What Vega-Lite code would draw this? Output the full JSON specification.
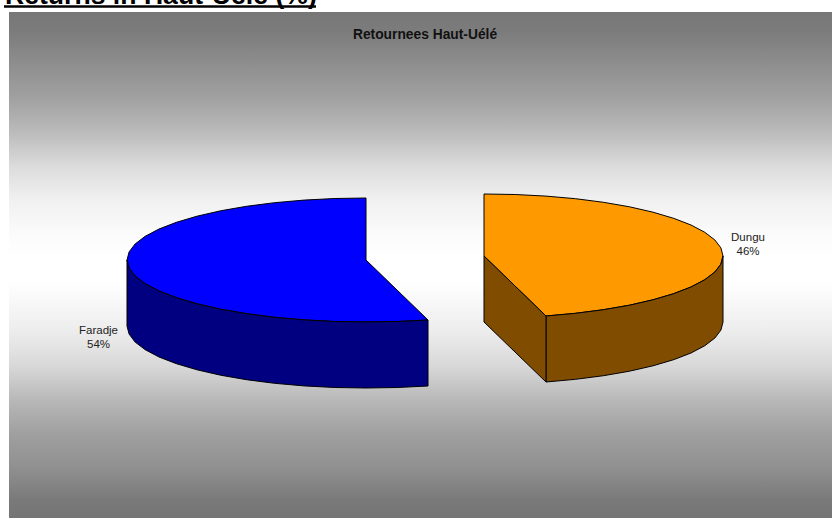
{"$schema":"https://vega.github.io/schema/vega-lite/v6.json","autosize":{"type":"none"},"width":832,"height":518,"padding":0,"background":"white","config":{"view":{"stroke":null},"style":{"cell":{"stroke":null}}},
"datasets":{"plot":[{"x0":9,"x1":832,"y0":12,"y1":518}],
"rule":[{"x0":4,"x1":316,"y":6.5}],
"texts":[{"t":"Returns in Haut-Uélé (%)","x":5,"y":4,"k":"h"}],
"sub":[{"t":"Retournees Haut-Uélé","x":425,"y":38.5}],
"labels":[{"t":"Faradje","x":98.5,"y":334},{"t":"54%","x":98.5,"y":348},{"t":"Dungu","x":748,"y":241},{"t":"46%","x":748,"y":255}],
"shapes":[
{"s":"Faradje top","x":366,"y":198},{"s":"Faradje top","x":334.8,"y":198.5},{"s":"Faradje top","x":304.1,"y":200.1},{"s":"Faradje top","x":274.5,"y":202.7},{"s":"Faradje top","x":246.5,"y":206.3},{"s":"Faradje top","x":220.5,"y":210.8},{"s":"Faradje top","x":197,"y":216.2},{"s":"Faradje top","x":176.4,"y":222.3},{"s":"Faradje top","x":159,"y":229},{"s":"Faradje top","x":145.2,"y":236.3},{"s":"Faradje top","x":135.1,"y":244},{"s":"Faradje top","x":129.1,"y":251.9},{"s":"Faradje top","x":127,"y":260},{"s":"Faradje top","x":129.1,"y":268.1},{"s":"Faradje top","x":135.1,"y":276},{"s":"Faradje top","x":145.2,"y":283.7},{"s":"Faradje top","x":159,"y":291},{"s":"Faradje top","x":176.4,"y":297.7},{"s":"Faradje top","x":197,"y":303.8},{"s":"Faradje top","x":220.5,"y":309.2},{"s":"Faradje top","x":246.5,"y":313.7},{"s":"Faradje top","x":274.5,"y":317.3},{"s":"Faradje top","x":304.1,"y":319.9},{"s":"Faradje top","x":334.8,"y":321.5},{"s":"Faradje top","x":366,"y":322},{"s":"Faradje top","x":397.2,"y":321.5},{"s":"Faradje top","x":428,"y":320},{"s":"Faradje top","x":366,"y":260},{"s":"Faradje top","x":366,"y":198},
{"s":"Faradje side","x":127,"y":260},{"s":"Faradje side","x":129.1,"y":268.1},{"s":"Faradje side","x":135.1,"y":276},{"s":"Faradje side","x":145.2,"y":283.7},{"s":"Faradje side","x":159,"y":291},{"s":"Faradje side","x":176.4,"y":297.7},{"s":"Faradje side","x":197,"y":303.8},{"s":"Faradje side","x":220.5,"y":309.2},{"s":"Faradje side","x":246.5,"y":313.7},{"s":"Faradje side","x":274.5,"y":317.3},{"s":"Faradje side","x":304.1,"y":319.9},{"s":"Faradje side","x":334.8,"y":321.5},{"s":"Faradje side","x":366,"y":322},{"s":"Faradje side","x":397.2,"y":321.5},{"s":"Faradje side","x":428,"y":320},{"s":"Faradje side","x":428,"y":386},{"s":"Faradje side","x":397.2,"y":387.5},{"s":"Faradje side","x":366,"y":388},{"s":"Faradje side","x":334.8,"y":387.5},{"s":"Faradje side","x":304.1,"y":385.9},{"s":"Faradje side","x":274.5,"y":383.3},{"s":"Faradje side","x":246.5,"y":379.7},{"s":"Faradje side","x":220.5,"y":375.2},{"s":"Faradje side","x":197,"y":369.8},{"s":"Faradje side","x":176.4,"y":363.7},{"s":"Faradje side","x":159,"y":357},{"s":"Faradje side","x":145.2,"y":349.7},{"s":"Faradje side","x":135.1,"y":342},{"s":"Faradje side","x":129.1,"y":334.1},{"s":"Faradje side","x":127,"y":326},{"s":"Faradje side","x":127,"y":260},
{"s":"Dungu top","x":484,"y":194},{"s":"Dungu top","x":515.2,"y":194.5},{"s":"Dungu top","x":545.9,"y":196.1},{"s":"Dungu top","x":575.5,"y":198.7},{"s":"Dungu top","x":603.5,"y":202.3},{"s":"Dungu top","x":629.5,"y":206.8},{"s":"Dungu top","x":653,"y":212.2},{"s":"Dungu top","x":673.6,"y":218.3},{"s":"Dungu top","x":691,"y":225},{"s":"Dungu top","x":704.8,"y":232.3},{"s":"Dungu top","x":714.9,"y":240},{"s":"Dungu top","x":720.9,"y":247.9},{"s":"Dungu top","x":723,"y":256},{"s":"Dungu top","x":720.9,"y":264.1},{"s":"Dungu top","x":714.9,"y":272},{"s":"Dungu top","x":704.8,"y":279.7},{"s":"Dungu top","x":691,"y":287},{"s":"Dungu top","x":673.6,"y":293.7},{"s":"Dungu top","x":653,"y":299.8},{"s":"Dungu top","x":629.5,"y":305.2},{"s":"Dungu top","x":603.5,"y":309.7},{"s":"Dungu top","x":575.5,"y":313.3},{"s":"Dungu top","x":546,"y":316},{"s":"Dungu top","x":484,"y":256},{"s":"Dungu top","x":484,"y":194},
{"s":"Dungu side","x":723,"y":256},{"s":"Dungu side","x":720.9,"y":264.1},{"s":"Dungu side","x":714.9,"y":272},{"s":"Dungu side","x":704.8,"y":279.7},{"s":"Dungu side","x":691,"y":287},{"s":"Dungu side","x":673.6,"y":293.7},{"s":"Dungu side","x":653,"y":299.8},{"s":"Dungu side","x":629.5,"y":305.2},{"s":"Dungu side","x":603.5,"y":309.7},{"s":"Dungu side","x":575.5,"y":313.3},{"s":"Dungu side","x":546,"y":316},{"s":"Dungu side","x":546,"y":382},{"s":"Dungu side","x":575.5,"y":379.3},{"s":"Dungu side","x":603.5,"y":375.7},{"s":"Dungu side","x":629.5,"y":371.2},{"s":"Dungu side","x":653,"y":365.8},{"s":"Dungu side","x":673.6,"y":359.7},{"s":"Dungu side","x":691,"y":353},{"s":"Dungu side","x":704.8,"y":345.7},{"s":"Dungu side","x":714.9,"y":338},{"s":"Dungu side","x":720.9,"y":330.1},{"s":"Dungu side","x":723,"y":322},{"s":"Dungu side","x":723,"y":256},
{"s":"Dungu cut","x":484,"y":256},{"s":"Dungu cut","x":546,"y":316},{"s":"Dungu cut","x":546,"y":382},{"s":"Dungu cut","x":484,"y":322},{"s":"Dungu cut","x":484,"y":256}
]},
"layer":[
{"data":{"name":"plot"},"mark":{"type":"rect","fill":{"gradient":"linear","x1":0,"y1":0,"x2":0,"y2":1,"stops":[{"offset":0,"color":"#777777"},{"offset":0.04,"color":"#7c7c7c"},{"offset":0.174,"color":"#a2a2a2"},{"offset":0.24,"color":"#bcbcbc"},{"offset":0.306,"color":"#dcdcdc"},{"offset":0.37,"color":"#f0f0f0"},{"offset":0.437,"color":"#fbfbfb"},{"offset":0.49,"color":"#ffffff"},{"offset":0.54,"color":"#fefefe"},{"offset":0.634,"color":"#ececec"},{"offset":0.70,"color":"#d8d8d8"},{"offset":0.767,"color":"#b8b8b8"},{"offset":0.832,"color":"#a0a0a0"},{"offset":0.90,"color":"#909090"},{"offset":0.964,"color":"#7a7a7a"},{"offset":1,"color":"#747474"}]}},
"encoding":{"x":{"field":"x0","type":"quantitative","scale":{"domain":[0,832],"nice":false,"zero":false},"axis":null},"x2":{"field":"x1"},"y":{"field":"y0","type":"quantitative","scale":{"domain":[0,518],"reverse":true,"nice":false,"zero":false},"axis":null},"y2":{"field":"y1"}}},
{"data":{"name":"shapes"},"transform":[{"window":[{"op":"row_number","as":"i"}]}],"mark":{"type":"line","stroke":"black","strokeWidth":1,"strokeJoin":"miter","clip":false},
"encoding":{"x":{"field":"x","type":"quantitative"},"y":{"field":"y","type":"quantitative"},"order":{"field":"i","type":"quantitative"},"detail":{"field":"s"},"fill":{"field":"s","type":"nominal","legend":null,"scale":{"domain":["Faradje top","Faradje side","Dungu top","Dungu side","Dungu cut"],"range":["#0000ff","#000080","#ff9900","#804d00","#804d00"]}}}},
{"data":{"name":"rule"},"mark":{"type":"rule","stroke":"black","strokeWidth":2.5},"encoding":{"x":{"field":"x0","type":"quantitative"},"x2":{"field":"x1"},"y":{"field":"y","type":"quantitative"}}},
{"data":{"name":"texts"},"mark":{"type":"text","font":"Liberation Sans","fontWeight":"bold","fontSize":26.6,"align":"left","baseline":"alphabetic","fill":"black"},"encoding":{"x":{"field":"x","type":"quantitative"},"y":{"field":"y","type":"quantitative"},"text":{"field":"t"}}},
{"data":{"name":"sub"},"mark":{"type":"text","font":"Liberation Sans","fontWeight":"bold","fontSize":13.8,"align":"center","baseline":"alphabetic","fill":"#111111"},"encoding":{"x":{"field":"x","type":"quantitative"},"y":{"field":"y","type":"quantitative"},"text":{"field":"t"}}},
{"data":{"name":"labels"},"mark":{"type":"text","font":"Liberation Sans","fontSize":11.5,"align":"center","baseline":"alphabetic","fill":"#222222"},"encoding":{"x":{"field":"x","type":"quantitative"},"y":{"field":"y","type":"quantitative"},"text":{"field":"t"}}}
]}
